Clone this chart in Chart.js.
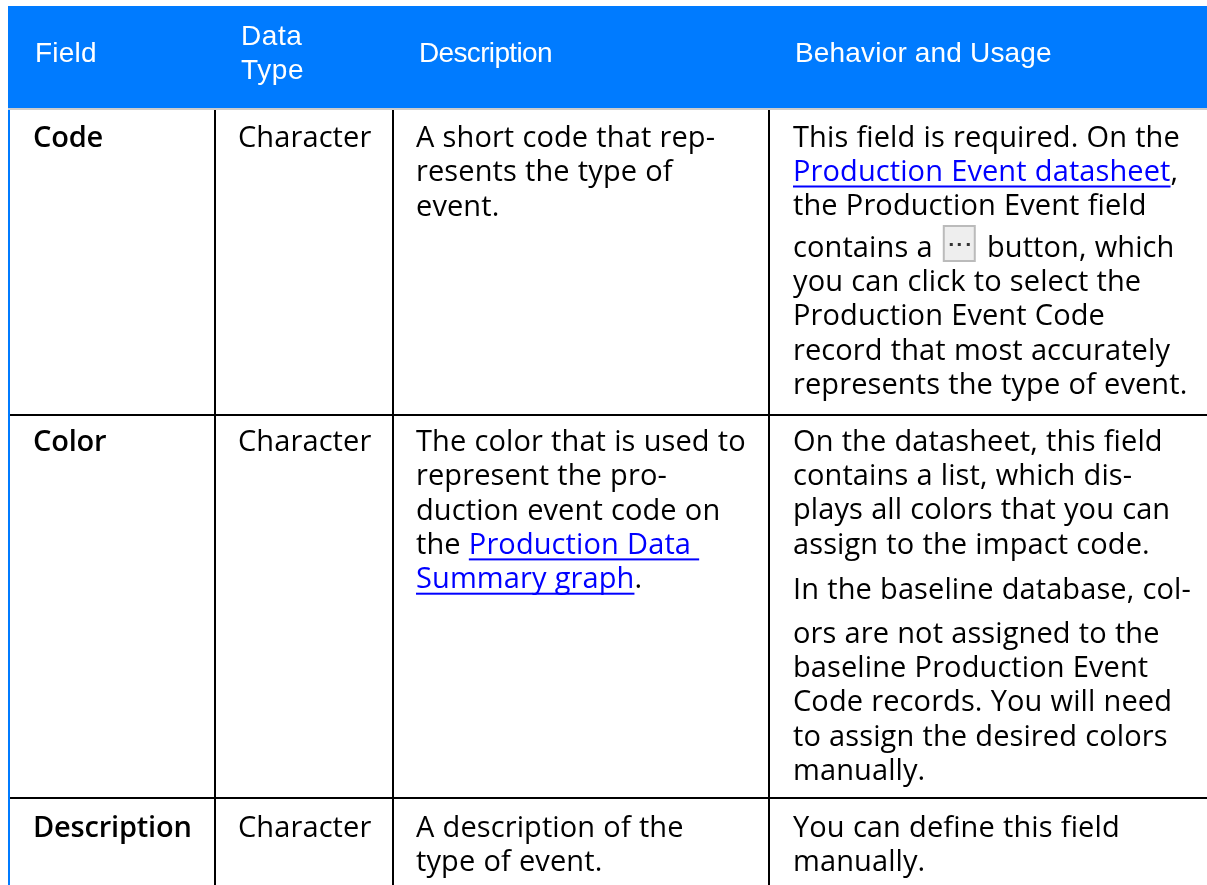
<!DOCTYPE html>
<html>
<head>
<meta charset="utf-8">
<title>Production Event Code fields</title>
<script src="https://cdn.jsdelivr.net/npm/chart.js@4"></script>
<style>
  html, body { margin: 0; padding: 0; background: #fff; overflow: hidden; }
  canvas { display: block; }
</style>
</head>
<body>
<canvas id="tableChart" width="1207" height="885"></canvas>
<script>
// table content, [[...]] is a link and {btn} the little "..." button
const headers = [["Field"], ["Data", "Type"], ["Description"], ["Behavior and Usage"]];
const fieldNames = ["Code", "Color", "Description"];
const dataTypes = ["Character", "Character", "Character"];
const descriptions = [
  ["A short code that rep-", "resents the type of", "event."],
  ["The color that is used to", "represent the pro-", "duction event code on", "the [[Production Data ]]", "[[Summary graph]]."],
  ["A description of the", "type of event."]
];
const usage = [
  ["This field is required. On the", "[[Production Event datasheet]],", "the Production Event field", "contains a {btn} button, which", "you can click to select the", "Production Event Code", "record that most accurately", "represents the type of event."],
  ["On the datasheet, this field", "contains a list, which dis-", "plays all colors that you can", "assign to the impact code.", "In the baseline database, col-", "ors are not assigned to the", "baseline Production Event", "Code records. You will need", "to assign the desired colors", "manually."],
  ["You can define this field", "manually."]
];

// layout, in page pixels
const colEdges = [215, 393, 769];
const rowEdges = [415, 798];
const headerTop = 6, headerBottom = 108, ruleY = 109;
const headerX = [35, 241, 419, 795];
const headerBaselines = [[62], [44.5, 78.5], [62], [62]];
const headerSpacing = ["0.2px", "0.6px", "-0.65px", "0.17px"];
const cellX = [33, 238, 416, 793];
const rowBaselines = [147, 451, 837];
const lineGap = 34.3;
const usageBaselines = [
  [147, 181, 215, 257, 291, 325, 360, 394],
  [451, 485, 519, 554, 599, 643, 677, 711, 746, 780],
  [837, 871]
];

const BLACK = "#000000", BLUE = "#007bff", LINK = "#0000ff";
const bodyFont = "29px 'Open Sans'";
const boldFont = "600 29px 'Open Sans'";
const headFont = "28px 'Liberation Sans'";

function lineSet(points, color, width) {
  return { data: points, showLine: true, borderColor: color, borderWidth: width, pointRadius: 0, fill: false };
}

const datasets = [
  {
    data: [{ x: 8, y: headerTop }, { x: 1207, y: headerTop }],
    showLine: true, borderWidth: 0, pointRadius: 0,
    backgroundColor: BLUE, fill: { value: headerBottom }
  },
  lineSet([{ x: 8, y: ruleY }, { x: 1207, y: ruleY }], "#cccccc", 2),
  lineSet([{ x: 9, y: headerBottom }, { x: 9, y: 885 }], BLUE, 2)
];
colEdges.forEach(x => datasets.push(lineSet([{ x: x, y: 110 }, { x: x, y: 885 }], BLACK, 2)));
rowEdges.forEach(y => datasets.push(lineSet([{ x: 10, y: y }, { x: 1207, y: y }], BLACK, 2)));

function drawButton(ctx, x, y) {
  ctx.fillStyle = "#eeeeee";
  ctx.strokeStyle = "#bbbbbb";
  ctx.lineWidth = 2;
  ctx.fillRect(x + 3, y - 31, 31, 35);
  ctx.strokeRect(x + 3, y - 31, 31, 35);
  ctx.fillStyle = "#333333";
  [9, 17, 26].forEach(d => ctx.fillRect(x + d, y - 14, 3, 3));
}

// writes one line, switching to link colour and underline inside [[ ]]
function drawLine(ctx, text, x, y, color) {
  text.split(/(\[\[.*?\]\]|\{btn\})/).filter(Boolean).forEach(part => {
    if (part === "{btn}") {
      drawButton(ctx, x, y);
      x += 38;
      return;
    }
    const isLink = part.startsWith("[[");
    const str = isLink ? part.slice(2, -2) : part;
    const w = ctx.measureText(str).width;
    ctx.fillStyle = isLink ? LINK : color;
    ctx.fillText(str, x, y);
    if (isLink) ctx.fillRect(x, y + 4.5, w, 2);
    x += w;
  });
}

const tableText = {
  id: "tableText",
  afterDatasetsDraw(chart) {
    const ctx = chart.ctx;
    const sx = chart.scales.x, sy = chart.scales.y;
    const put = (text, x, y, color) => drawLine(ctx, text, sx.getPixelForValue(x), sy.getPixelForValue(y), color);
    ctx.save();
    ctx.textBaseline = "alphabetic";
    ctx.font = headFont;
    headers.forEach((lines, c) => {
      ctx.letterSpacing = headerSpacing[c];
      lines.forEach((t, i) => put(t, headerX[c], headerBaselines[c][i], "#ffffff"));
    });
    rowBaselines.forEach((base, r) => {
      ctx.font = boldFont;
      ctx.letterSpacing = "-0.2px";
      put(fieldNames[r], cellX[0], base, BLACK);
      ctx.font = bodyFont;
      ctx.letterSpacing = "0.1px";
      ctx.wordSpacing = "0.5px";
      put(dataTypes[r], cellX[1], base, BLACK);
      descriptions[r].forEach((t, i) => put(t, cellX[2], base + i * lineGap, BLACK));
      usage[r].forEach((t, i) => put(t, cellX[3], usageBaselines[r][i], BLACK));
      ctx.wordSpacing = "0px";
    });
    ctx.restore();
  }
};

new Chart(document.getElementById("tableChart"), {
  type: "scatter",
  data: { datasets: datasets },
  options: {
    responsive: false,
    animation: false,
    layout: { padding: 0 },
    plugins: { legend: { display: false }, tooltip: { enabled: false } },
    scales: {
      x: { type: "linear", min: 0, max: 1207, display: false },
      y: { type: "linear", min: 0, max: 885, reverse: true, display: false }
    }
  },
  plugins: [tableText]
});
</script>
</body>
</html>
